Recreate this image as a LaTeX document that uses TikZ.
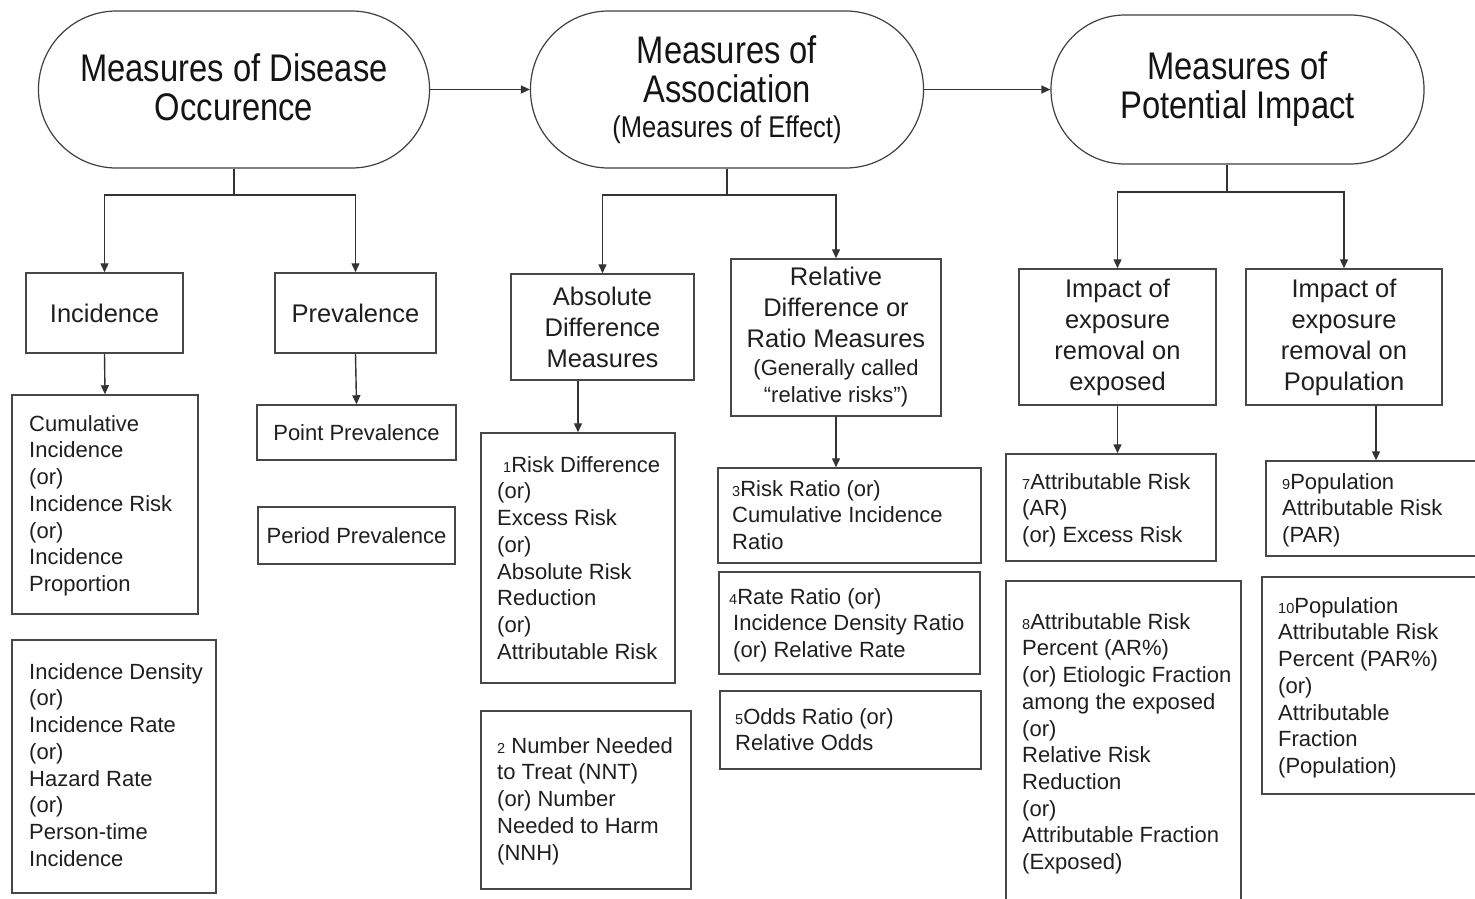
\documentclass[tikz,border=0pt]{standalone}
\usepackage{fontspec}
\setmainfont{Liberation Sans}
\newfontfamily\nfont[FakeStretch=0.85]{Liberation Sans}
\usetikzlibrary{arrows.meta}
\newcommand{\hfont}{\fontsize{25.5}{31}\selectfont}
\newcommand{\bfont}{\fontsize{22}{26.7}\selectfont}
\newcommand{\tfont}{\nfont\fontsize{38.5}{39}\selectfont}
\newcommand{\sfont}{\nfont\fontsize{30}{36}\selectfont}
\newcommand{\ts}{\rule{0pt}{17pt}}
\newcommand{\nm}[1]{{\fontsize{14.5}{14.5}\selectfont #1}}
\newcommand{\bx}[7][]{\node[box,minimum width={(#5-#3)*1pt},minimum height={(#6-#4)*1pt},#1] (#2) at ({(#3+#5)/2},{(#4+#6)/2}) {#7};}
\newcommand{\tx}[4]{\node[txt] (#1) at (#2,{#3-9}) {\ts #4};}
\begin{document}
\begin{tikzpicture}[x=1pt,y=-1pt,
  box/.style={draw=black!72,line width=1.5pt,inner sep=0pt,align=center,font=\hfont,text=black!88},
  oval/.style={draw=black!75,line width=1.2pt,rounded corners=#1,inner sep=0pt,align=center,font=\tfont,text=black!92},
  txt/.style={anchor=north west,inner sep=0pt,align=left,font=\bfont,text=black!88},
  conn/.style={draw=black!80,line width=1.4pt},
  arr/.style={conn,-{Triangle[width=8pt,length=9pt]}}]
\useasboundingbox (0,0) rectangle (1475,898);
\clip (0,0) rectangle (1475,898);
\fill[white] (0,0) rectangle (1475,898);
% top ovals
\node[oval=78pt,minimum width=391pt,minimum height=157pt] (o1) at (234,89.5) {Measures of Disease\\Occurence\rule[-4pt]{0pt}{4pt}};
\node[oval=78pt,minimum width=393pt,minimum height=157pt] (o2) at (727,89.5) {\rule{0pt}{26pt}Measures of\\Association\\[-4pt]{\sfont (Measures of Effect)}};
\node[oval=74pt,minimum width=373pt,minimum height=149pt] (o3) at (1237.5,89.5) {Measures of\\Potential Impact};
\draw[arr] (o1.east) -- (o2.west);
\draw[arr] (o2.east) -- (o3.west);
% level 2 boxes
\bx{inc}{26}{273}{183}{353}{Incidence}
\bx{prev}{275}{273}{436}{353}{Prevalence}
\bx{abs}{511}{274}{694}{380}{Absolute\\Difference\\Measures}
\bx{rel}{731}{259}{941}{416}{Relative\\Difference or\\Ratio Measures\\[-3pt]{\bfont (Generally called}\\[-4pt]{\bfont “relative risks”)}}
\bx{ie}{1019}{269}{1216}{405}{Impact of\\exposure\\removal on\\exposed}
\bx{ip}{1246}{269}{1442}{405}{Impact of\\exposure\\removal on\\Population}
% level 3 boxes
\bx{cum}{12}{395}{198}{614}{}
\bx{dens}{12}{640}{216}{893}{}
\bx[font=\bfont]{pp}{257}{405}{456}{460}{Point Prevalence}
\bx[font=\bfont]{per}{258}{507}{455}{564}{Period Prevalence}
\bx{b1}{481}{433}{675}{683}{}
\bx{b2}{481}{711}{691}{889}{}
\bx{b3}{718}{468}{981}{563}{}
\bx{b4}{719}{572}{980}{674}{}
\bx{b5}{720}{691}{981}{769}{}
\bx{b7}{1006}{454}{1216}{561}{}
\bx{b8}{1006}{581}{1241}{910}{}
\bx{b9}{1266}{461}{1486}{556}{}
\bx{b10}{1262}{577}{1490}{794}{}
% texts
\tx{tcum}{29}{423}{Cumulative\\Incidence\\(or)\\Incidence Risk\\(or)\\Incidence\\Proportion}
\tx{tdens}{29}{671}{Incidence Density\\(or)\\Incidence Rate\\(or)\\Hazard Rate\\(or)\\Person-time\\Incidence}
\tx{tb1}{497}{464}{\hspace{6pt}\nm{1}Risk Difference\\(or)\\Excess Risk\\(or)\\Absolute Risk\\Reduction\\(or)\\Attributable Risk}
\tx{tb2}{497}{745}{\nm{2} Number Needed\\to Treat (NNT)\\(or) Number\\Needed to Harm\\(NNH)}
\tx{tb3}{732}{488}{\nm{3}Risk Ratio (or)\\Cumulative Incidence\\Ratio}
\tx{tb4}{729}{596}{\nm{4}Rate Ratio (or)\\\hspace{4pt}Incidence Density Ratio\\\hspace{4pt}(or) Relative Rate}
\tx{tb5}{735}{716}{\nm{5}Odds Ratio (or)\\Relative Odds}
\tx{tb7}{1022}{481}{\nm{7}Attributable Risk\\(AR)\\(or) Excess Risk}
\tx{tb8}{1022}{621}{\nm{8}Attributable Risk\\Percent (AR\%)\\(or) Etiologic Fraction\\among the exposed\\(or)\\Relative Risk\\Reduction\\(or)\\Attributable Fraction\\(Exposed)}
\tx{tb9}{1282}{481}{\nm{9}Population\\Attributable Risk\\(PAR)}
\tx{tb10}{1278}{605}{\nm{10}Population\\Attributable Risk\\Percent (PAR\%)\\(or)\\Attributable\\Fraction\\(Population)}
% tree connectors
\coordinate (j1) at (234,195);
\coordinate (j2) at (727,195);
\coordinate (j3) at (1227,192);
\draw[conn] (o1.south) -- (j1);
\draw[arr] (j1) -| (inc.north);
\draw[arr] (j1) -| (prev.north);
\draw[conn] (o2.south) -- (j2);
\draw[arr] (j2) -| (abs.north);
\draw[arr] (j2) -| (rel.north);
\draw[conn] (j3 |- o3.south) -- (j3);
\draw[arr] (j3) -| (ie.north);
\draw[arr] (j3) -| (ip.north);
\draw[arr] (inc.south) -- (cum.north);
\draw[arr] (prev.south) -- (pp.north);
\draw[arr] (b1.north |- abs.south) -- (b1.north);
\draw[arr] (rel.south) -- (rel.south |- b3.north);
\draw[arr] (ie.south) -- (ie.south |- b7.north);
\draw[arr] (b9.north |- ip.south) -- (b9.north);
\end{tikzpicture}
\end{document}
